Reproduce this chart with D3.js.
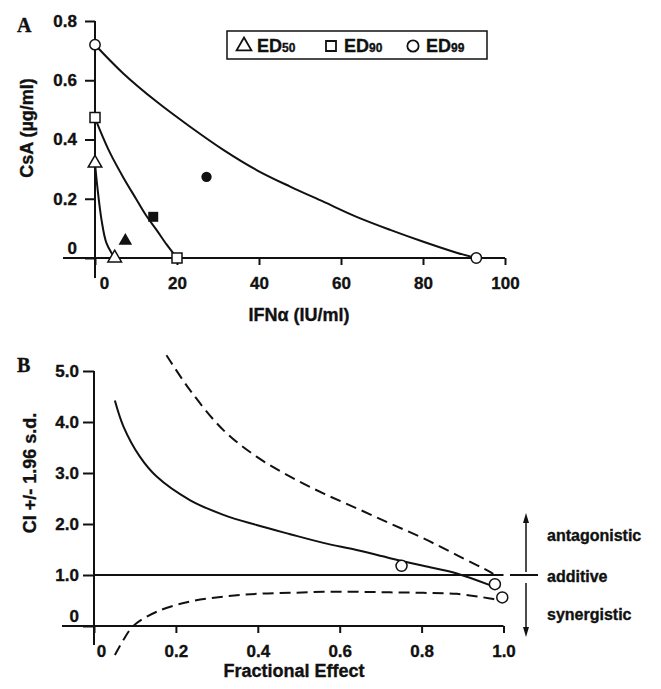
<!DOCTYPE html>
<html>
<head>
<meta charset="utf-8">
<script src="https://cdn.jsdelivr.net/npm/d3@7"></script>
<style>
  body { margin: 0; background: #fff; }
  svg text { font-family: "Liberation Sans", Arial, sans-serif; font-weight: bold; fill: #111; stroke: #111; stroke-width: 0.35px; }
</style>
</head>
<body>
<div id="main"></div>
<script>
// ---- panel A : isobologram ----
const ticksAx = [0, 20, 40, 60, 80, 100];
const ticksAy = [0, 0.2, 0.4, 0.6, 0.8];
const legendKeys = [["tri", "50"], ["sq", "90"], ["circ", "99"]];

const ed50Curve = [[0, 0.32], [0.57, 0.24], [1.6, 0.128], [2.8, 0.05], [4.8, 0]];
const ed90Curve = [[0, 0.474], [1.2, 0.432], [3.7, 0.354], [6.9, 0.272], [10, 0.2], [12.4, 0.145],
                   [15, 0.095], [17.5, 0.045], [20, 0]];
const ed99Curve = [[0, 0.72], [6.9, 0.623], [15, 0.528], [23.2, 0.443], [31.3, 0.365], [39.4, 0.297],
                   [47.6, 0.241], [55.7, 0.19], [63.8, 0.139], [72, 0.095], [80.1, 0.055], [88.2, 0.018], [93, 0]];

const openPointsA = [
  {x: 0, y: 0.32, s: "tri"}, {x: 4.8, y: 0, s: "tri"},
  {x: 0, y: 0.474, s: "sq"}, {x: 20, y: 0, s: "sq"},
  {x: 0, y: 0.72, s: "circ"}, {x: 93, y: 0, s: "circ"}
];
const filledPointsA = [
  {x: 7.4, y: 0.058, s: "tri"}, {x: 14.2, y: 0.139, s: "sq"}, {x: 27.2, y: 0.274, s: "circ"}
];

// ---- panel B : combination index ----
const ticksBx = [0, 0.2, 0.4, 0.6, 0.8, 1.0];
const ticksBy = [0, 1, 2, 3, 4, 5];
const ciMean = [[0.051, 4.42], [0.072, 3.91], [0.112, 3.32], [0.153, 2.93], [0.234, 2.47], [0.316, 2.18],
                [0.397, 1.98], [0.479, 1.8], [0.56, 1.63], [0.641, 1.49], [0.723, 1.33], [0.804, 1.18],
                [0.886, 1.03], [0.967, 0.8], [0.979, 0.76]];
const ciUpper = [[0.177, 5.31], [0.234, 4.63], [0.316, 3.84], [0.397, 3.32], [0.479, 2.93], [0.56, 2.6],
                 [0.641, 2.31], [0.723, 2.01], [0.804, 1.72], [0.886, 1.39], [0.967, 1.06], [0.975, 1.02]];
const ciLower = [[0.051, -0.57], [0.072, -0.27], [0.096, 0], [0.153, 0.28], [0.234, 0.48], [0.316, 0.575],
                 [0.397, 0.63], [0.479, 0.65], [0.56, 0.67], [0.641, 0.67], [0.723, 0.66], [0.804, 0.65],
                 [0.886, 0.63], [0.967, 0.54], [0.98, 0.52]];
const ciPoints = [[0.751, 1.18], [0.979, 0.82], [0.997, 0.56]];
const zoneLabels = ["antagonistic", "additive", "synergistic"];

const svg = d3.select("#main").append("svg")
  .attr("width", 661).attr("height", 689);

const shapes = {tri: d3.symbolTriangle, sq: d3.symbolSquare, circ: d3.symbolCircle};
const sizes = {tri: 80, sq: 100, circ: 84};
const sym = s => d3.symbol().type(shapes[s]).size(sizes[s])();

function fmt1(d) { return d === 0 ? "0" : d.toFixed(1); }

// ================= Panel A =================
const xA = d3.scaleLinear().domain([0, 100]).range([95, 505]);
const yA = d3.scaleLinear().domain([0, 0.8]).range([258, 21]);
const gA = svg.append("g");

gA.append("g")
  .attr("transform", `translate(0,${yA(0)})`)
  .call(d3.axisBottom(xA).tickValues(ticksAx).tickSize(7).tickPadding(12).tickFormat(d3.format("d")))
  .call(g => g.select(".domain").attr("d", `M63,0H${xA(100)}`))
  .call(g => g.selectAll(".tick text").filter(d => d === 0).attr("x", 9));

gA.append("g")
  .attr("transform", `translate(${xA(0)},0)`)
  .call(d3.axisLeft(yA).tickValues(ticksAy).tickSize(10).tickPadding(8).tickFormat(fmt1))
  .call(g => g.select(".domain").attr("d", `M0,${yA(0.8)}V278`))
  .call(g => g.selectAll(".tick text").filter(d => d === 0).attr("y", -10));

svg.selectAll(".domain, .tick line").attr("stroke", "#111").attr("stroke-width", 2);
svg.selectAll(".tick text").style("font-size", "17px").attr("fill", "#111");

const lineA = d3.line().curve(d3.curveCatmullRom.alpha(0.5)).x(d => xA(d[0])).y(d => yA(d[1]));
[ed50Curve, ed90Curve, ed99Curve].forEach(c => {
  gA.append("path").attr("d", lineA(c))
    .attr("fill", "none").attr("stroke", "#111").attr("stroke-width", 2);
});

gA.selectAll(".open").data(openPointsA).join("path")
  .attr("transform", d => `translate(${xA(d.x)},${yA(d.y)})`)
  .attr("d", d => sym(d.s))
  .attr("fill", "#fff").attr("stroke", "#111").attr("stroke-width", 1.5);

gA.selectAll(".filled").data(filledPointsA).join("path")
  .attr("transform", d => `translate(${xA(d.x)},${yA(d.y)})`)
  .attr("d", d => sym(d.s))
  .attr("fill", "#111");

// legend
const leg = gA.append("g");
leg.append("rect").attr("x", 227).attr("y", 31).attr("width", 260).attr("height", 28)
  .attr("fill", "#fff").attr("stroke", "#111").attr("stroke-width", 1.5);
const legX = [244, 331, 413];
legendKeys.forEach((k, i) => {
  leg.append("path").attr("transform", `translate(${legX[i]},46)`)
    .attr("d", d3.symbol().type(shapes[k[0]]).size(k[0] === "tri" ? 95 : 100)())
    .attr("fill", "none").attr("stroke", "#111").attr("stroke-width", 1.8);
  const t = leg.append("text").attr("x", legX[i] + 13).attr("y", 52).style("font-size", "18px");
  t.append("tspan").text("ED");
  t.append("tspan").style("font-size", "12px").text(k[1]);
});

gA.append("text").attr("x", 299).attr("y", 321).attr("text-anchor", "middle")
  .style("font-size", "18px").text("IFNα (IU/ml)");
gA.append("text").attr("transform", "translate(33,128) rotate(-90)").attr("text-anchor", "middle")
  .style("font-size", "18px").text("CsA (µg/ml)");
gA.append("text").attr("x", 17).attr("y", 32)
  .style("font-family", "'Liberation Serif', serif").style("font-size", "20px").text("A");

// ================= Panel B =================
const xB = d3.scaleLinear().domain([0, 1]).range([94, 503.5]);
const yB = d3.scaleLinear().domain([0, 5]).range([626, 371]);
const gB = svg.append("g");

gB.append("g")
  .attr("transform", `translate(0,${yB(0)})`)
  .call(d3.axisBottom(xB).tickValues(ticksBx).tickSize(7).tickPadding(12).tickFormat(fmt1))
  .call(g => g.select(".domain").attr("d", `M62,0H${xB(1)}`))
  .call(g => g.selectAll(".tick text").filter(d => d === 0).attr("x", 7));

gB.append("g")
  .attr("transform", `translate(${xB(0)},0)`)
  .call(d3.axisLeft(yB).tickValues(ticksBy).tickSize(11).tickPadding(4).tickFormat(fmt1))
  .call(g => g.select(".domain").attr("d", `M0,${yB(5)}V645`))
  .call(g => g.selectAll(".tick text").filter(d => d === 0).attr("y", -10));

gB.selectAll(".domain, .tick line").attr("stroke", "#111").attr("stroke-width", 2);
gB.selectAll(".tick text").style("font-size", "17px").attr("fill", "#111");

// additive reference line
gB.append("line").attr("x1", xB(0)).attr("x2", xB(1)).attr("y1", yB(1)).attr("y2", yB(1))
  .attr("stroke", "#111").attr("stroke-width", 2);
gB.append("line").attr("x1", 510).attr("x2", 538).attr("y1", yB(1)).attr("y2", yB(1))
  .attr("stroke", "#111").attr("stroke-width", 2);

const lineB = d3.line().curve(d3.curveCatmullRom.alpha(0.5)).x(d => xB(d[0])).y(d => yB(d[1]));
gB.append("path").attr("d", lineB(ciMean))
  .attr("fill", "none").attr("stroke", "#111").attr("stroke-width", 2);
[ciUpper, ciLower].forEach(c => {
  gB.append("path").attr("d", lineB(c))
    .attr("fill", "none").attr("stroke", "#111").attr("stroke-width", 2)
    .attr("stroke-dasharray", "11,6");
});

gB.selectAll("circle.pt").data(ciPoints).join("circle")
  .attr("cx", d => xB(d[0])).attr("cy", d => yB(d[1])).attr("r", 5.5)
  .attr("fill", "#fff").attr("stroke", "#111").attr("stroke-width", 1.5);

// arrows for interpretation
const ax = 526;
gB.append("line").attr("x1", ax).attr("x2", ax).attr("y1", 520).attr("y2", 572)
  .attr("stroke", "#111").attr("stroke-width", 1.5);
gB.append("path").attr("d", `M${ax},513L${ax - 3},523L${ax + 3},523Z`).attr("fill", "#111");
gB.append("line").attr("x1", ax).attr("x2", ax).attr("y1", 583).attr("y2", 630)
  .attr("stroke", "#111").attr("stroke-width", 1.5);
gB.append("path").attr("d", `M${ax},637L${ax - 3},627L${ax + 3},627Z`).attr("fill", "#111");

const zoneY = [541, 582, 620];
zoneLabels.forEach((t, i) => {
  gB.append("text").attr("x", 547).attr("y", zoneY[i]).style("font-size", "16px").text(t);
});

gB.append("text").attr("x", 294).attr("y", 677).attr("text-anchor", "middle")
  .style("font-size", "18px").text("Fractional Effect");
gB.append("text").attr("transform", "translate(36,473) rotate(-90)").attr("text-anchor", "middle")
  .style("font-size", "18px").text("CI +/- 1.96 s.d.");
gB.append("text").attr("x", 17).attr("y", 372)
  .style("font-family", "'Liberation Serif', serif").style("font-size", "20px").text("B");
</script>
</body>
</html>
